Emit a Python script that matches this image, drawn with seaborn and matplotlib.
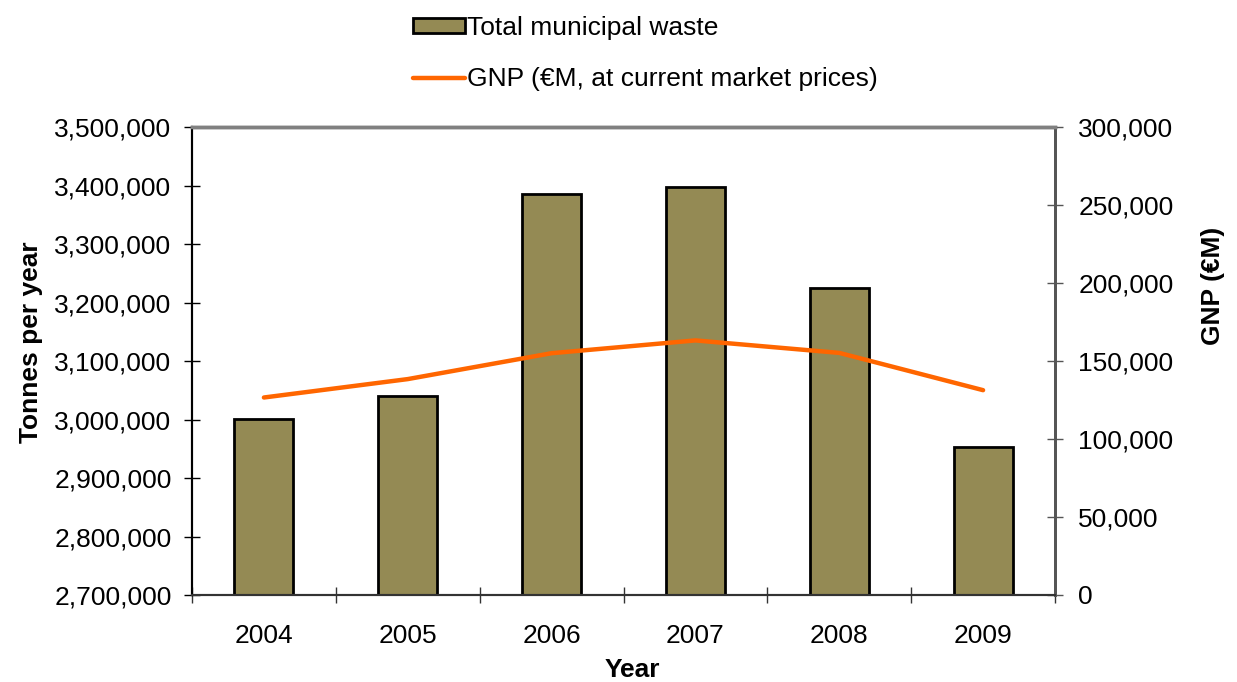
import matplotlib
matplotlib.use("Agg")
import matplotlib.pyplot as plt
import matplotlib.ticker as mticker
from matplotlib.patches import Patch
from matplotlib.lines import Line2D
import numpy as np
import pandas as pd
import seaborn as sns

years = ["2004", "2005", "2006", "2007", "2008", "2009"]
waste_tonnes = [3001000, 3041000, 3385000, 3398000, 3224000, 2953000]
gnp_millions = [126600, 138400, 155000, 163200, 155200, 131300]

waste_label = "Total municipal waste"
gnp_label = "GNP (\u20acM, at current market prices)"

df = pd.DataFrame({"Year": years, "Waste": waste_tonnes, "GNP": gnp_millions})

sns.set_theme(style="white")
plt.rcParams["font.family"] = ["Liberation Sans", "DejaVu Sans"]
plt.rcParams["text.color"] = "black"
plt.rcParams["axes.labelcolor"] = "black"

FS = 19
bar_color = "#948A54"
line_color = "#FF6600"

fig = plt.figure(figsize=(12.37, 6.82), dpi=100)
ax = fig.add_axes([192 / 1237, 1 - 595 / 682, (1055 - 192) / 1237, (595 - 127) / 682])

sns.barplot(data=df, x="Year", y="Waste", ax=ax, color=bar_color,
            width=0.41, edgecolor="black", linewidth=2, saturation=1)
ax.set_ylim(2700000, 3500000)
ax.set_xlim(-0.5, len(years) - 0.5)
ax.yaxis.set_major_locator(mticker.MultipleLocator(100000))
ax.yaxis.set_major_formatter(mticker.StrMethodFormatter("{x:,.0f}"))

ax2 = ax.twinx()
sns.lineplot(data=df, x="Year", y="GNP", ax=ax2, color=line_color,
             linewidth=3.2, sort=False, legend=False)
ax2.set_ylim(0, 300000)
ax2.yaxis.set_major_locator(mticker.MultipleLocator(50000))
ax2.yaxis.set_major_formatter(mticker.StrMethodFormatter("{x:,.0f}"))

# Category separators on the x axis
ax.set_xticks(np.arange(-0.5, len(years), 1), minor=True)
ax.tick_params(axis="x", which="major", length=0, labelsize=FS, pad=21, colors="black")
ax.tick_params(axis="x", which="minor", length=11.5, width=1, direction="inout",
               color="#333333", bottom=True)
ax.tick_params(axis="y", which="major", length=11.5, width=1, direction="inout",
               labelsize=FS, pad=9, left=True, colors="black")
ax2.tick_params(axis="y", which="major", length=11.5, width=1, direction="inout",
                labelsize=FS, pad=11, right=True, color="#555555", labelcolor="black")

for a in (ax, ax2):
    a.spines["top"].set_color("#808080")
    a.spines["top"].set_linewidth(2.5)
    a.spines["left"].set_color("black")
    a.spines["left"].set_linewidth(1.5)
    a.spines["bottom"].set_color("#333333")
    a.spines["bottom"].set_linewidth(1.5)
    a.spines["right"].set_color("#555555")
    a.spines["right"].set_linewidth(2)

ax.set_xlabel("Year", fontsize=FS, fontweight="bold", labelpad=7)
ax.set_ylabel("Tonnes per year", fontsize=FS, fontweight="bold", labelpad=8)
ax2.set_ylabel("GNP (\u20acM)", fontsize=FS, fontweight="bold", labelpad=20)
ax.xaxis.label.set_x(0.51)
ax.yaxis.label.set_y(0.541)
ax2.yaxis.label.set_y(0.66)
ax.grid(False)
ax2.grid(False)

handles = [
    Patch(facecolor=bar_color, edgecolor="black", linewidth=2),
    Line2D([0], [0], color=line_color, linewidth=3.2),
]
fig.legend(handles, [waste_label, gnp_label], loc="upper left",
           bbox_to_anchor=(389 / 1237, 1 + 8 / 682), frameon=False, fontsize=FS,
           handlelength=1.97, handleheight=0.53, handletextpad=0.1, labelspacing=1.05)

fig.savefig("out.png", dpi=100)
